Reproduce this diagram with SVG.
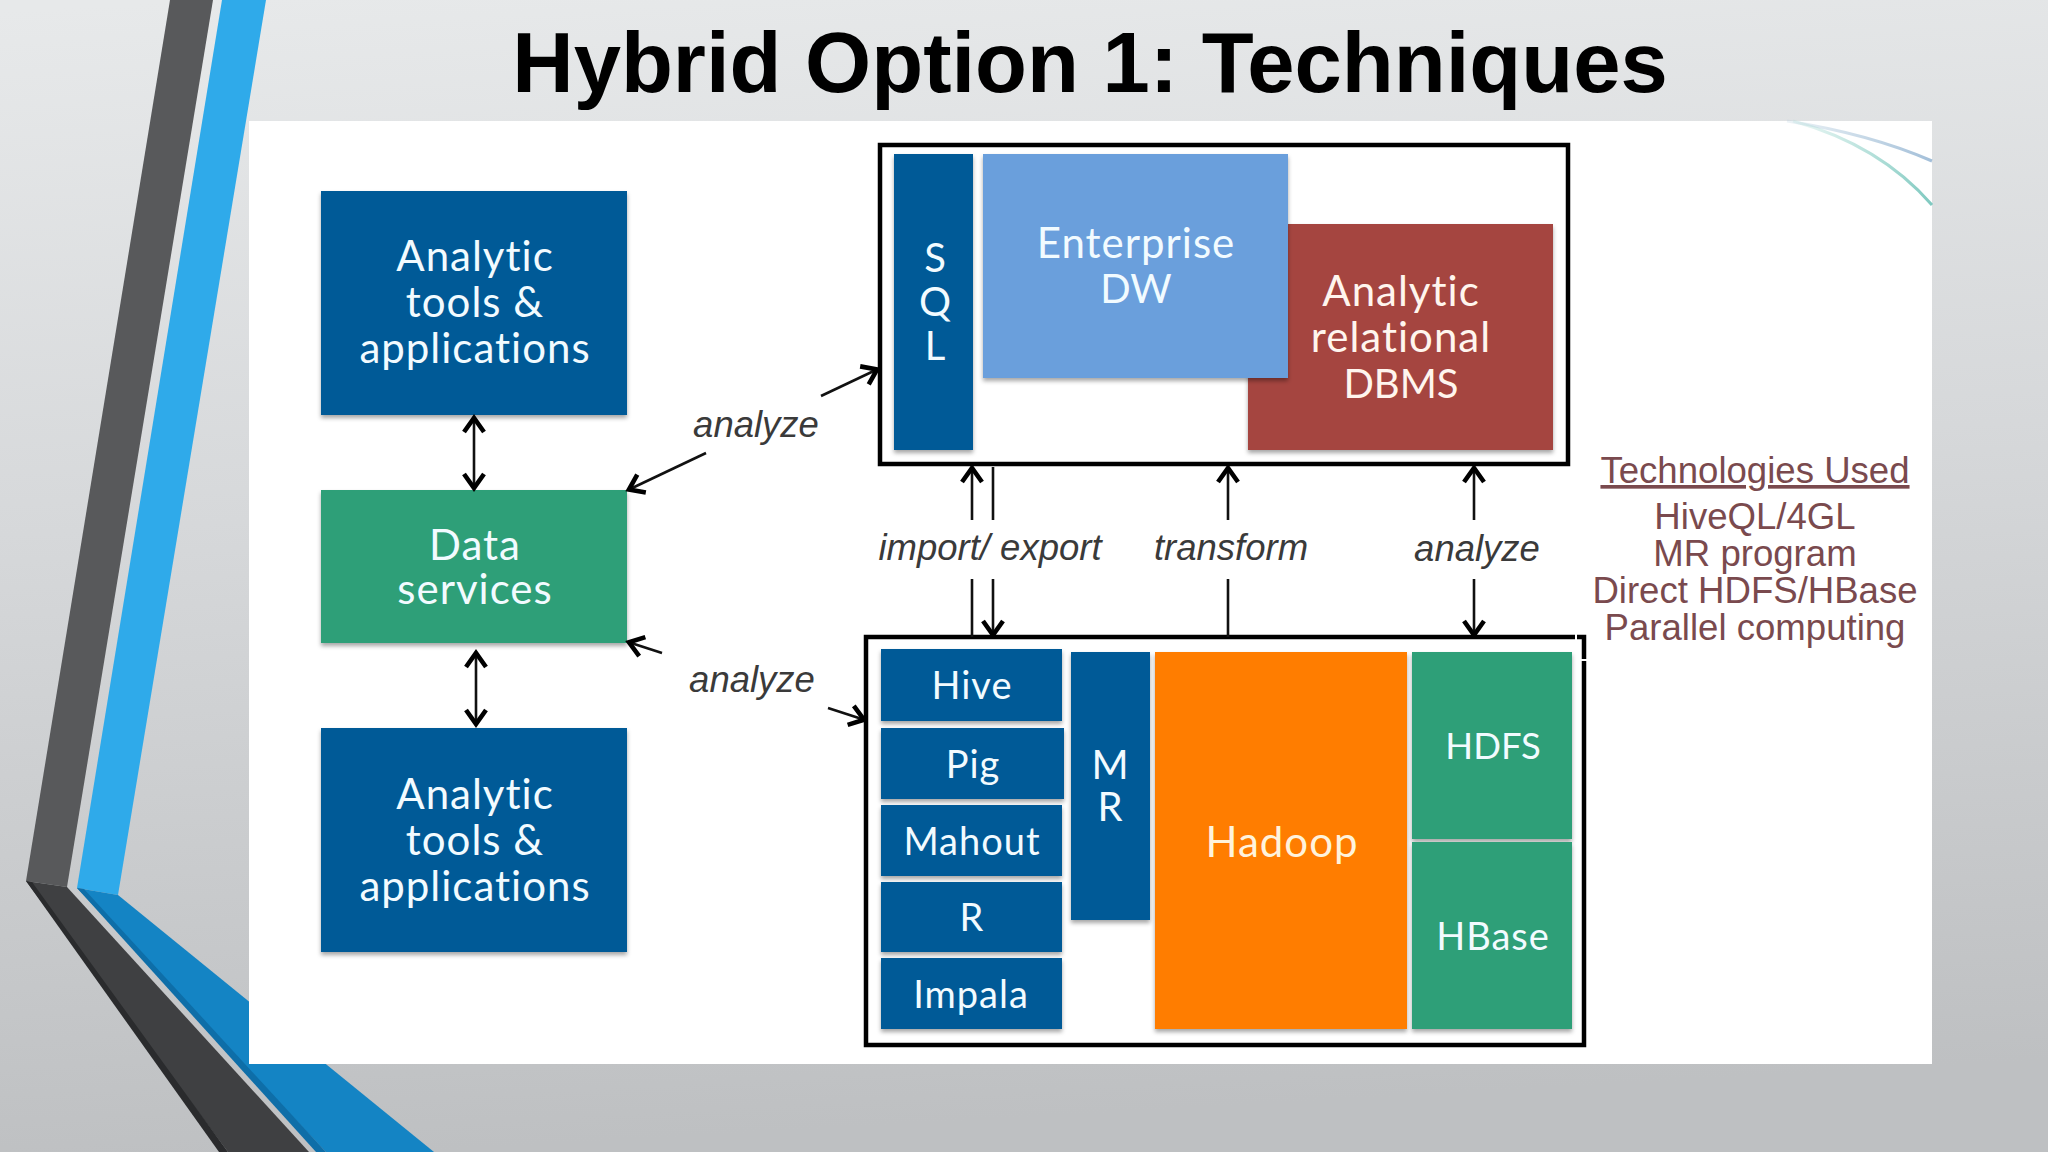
<svg xmlns="http://www.w3.org/2000/svg" width="2048" height="1152" viewBox="0 0 2048 1152">
<style>
.n{font-family:"Lato","Open Sans","Liberation Sans",sans-serif;fill:#f2fbff;text-anchor:middle}
.b{font-size:42px;letter-spacing:1px}.s{font-size:38px;letter-spacing:1px}.p{font-size:40px;letter-spacing:0}.q{font-size:36.5px;letter-spacing:0}
.l{font-family:"Liberation Sans",Arial,sans-serif;font-style:italic;font-size:36.5px;fill:#3a3a3a;text-anchor:middle}
.t{font-family:"Liberation Sans",Arial,sans-serif;font-size:36.6px;fill:#7a4a4e;text-anchor:middle}
.blue{fill:#025a97}.green{fill:#2d9f78}
.c{fill:none;stroke:#111;stroke-width:2.6}
.d{marker-end:url(#h)}.dd{marker-start:url(#h);marker-end:url(#h)}
.o{fill:none;stroke:#000;stroke-width:4.5}
</style>
<defs>
<linearGradient id="bg" x1="0.1" y1="0" x2="0.2" y2="1"><stop offset="0" stop-color="#e7e9ea"/><stop offset="0.45" stop-color="#d6d8da"/><stop offset="1" stop-color="#bec0c2"/></linearGradient>
<linearGradient id="sw" x1="0" y1="0" x2="1" y2="0"><stop offset="0" stop-color="#9fd8cf" stop-opacity="0.2"/><stop offset="1" stop-color="#7fc9c0"/></linearGradient>
<linearGradient id="sw2" x1="0" y1="0" x2="1" y2="0"><stop offset="0" stop-color="#a8c4d8" stop-opacity="0.2"/><stop offset="1" stop-color="#a3bfd9"/></linearGradient>
<filter id="sh" x="-10%" y="-10%" width="120%" height="120%"><feDropShadow dx="0" dy="3" stdDeviation="2" flood-color="#000" flood-opacity="0.35"/></filter>
<marker id="h" markerUnits="userSpaceOnUse" markerWidth="30" markerHeight="30" refX="20" refY="15" orient="auto-start-reverse"><path d="M5 5 L19 15 L5 25" fill="none" stroke="#000" stroke-width="4.6"/></marker>
</defs>
<rect id="background" width="2048" height="1152" fill="url(#bg)"/>
<g id="decoration">
<polygon points="170,0 213,0 67,887 26,881" fill="#58595b"/>
<polygon points="222,0 266,0 118,895 77,888" fill="#2faaea"/>
<polygon points="26,881 67,887 309,1152 228,1152" fill="#3f4042"/>
<polygon points="26,881 32,882 228,1152 219,1152" fill="#2a2b2d"/>
<polygon points="77,888 118,895 434,1152 326,1152" fill="#1484c4"/>
<polygon points="77,888 84,889 326,1152 316,1152" fill="#0e6ea8"/>
</g>
<rect id="panel" x="249" y="121" width="1683" height="943" fill="#fff"/>
<g id="swoosh" fill="none" stroke-width="3">
<path d="M1787 121 Q1870 134 1932 161" stroke="url(#sw2)"/>
<path d="M1793 121 Q1880 145 1932 205" stroke="url(#sw)"/>
</g>
<text id="title" x="1090" y="92" font-family="Liberation Sans, Arial, sans-serif" font-weight="700" font-size="85" text-anchor="middle" fill="#000">Hybrid Option 1: Techniques</text>

<g id="box-top"><rect class="o" x="880" y="145" width="688" height="319"/></g>
<g id="box-bottom"><rect class="o" x="866" y="637" width="718" height="408"/><path d="M1576 633 V640 M1580 660 H1590" stroke="#fff" stroke-width="2"/></g>

<g id="node-analytic-top"><rect class="blue" x="321" y="191" width="306" height="224" filter="url(#sh)"/><text class="n b"><tspan x="475" y="271">Analytic</tspan><tspan x="475" y="317">tools &amp;</tspan><tspan x="475" y="363">applications</tspan></text></g>
<g id="node-data-services"><rect class="green" x="321" y="490" width="306" height="153" filter="url(#sh)"/><text class="n b"><tspan x="475" y="560">Data</tspan><tspan x="475" y="604">services</tspan></text></g>
<g id="node-analytic-bottom"><rect class="blue" x="321" y="728" width="306" height="224" filter="url(#sh)"/><text class="n b"><tspan x="475" y="809">Analytic</tspan><tspan x="475" y="855">tools &amp;</tspan><tspan x="475" y="901">applications</tspan></text></g>

<g id="node-sql"><rect class="blue" x="894" y="154" width="79" height="296" filter="url(#sh)"/><text class="n p"><tspan x="935" y="272">S</tspan><tspan x="935" y="316">Q</tspan><tspan x="935" y="360">L</tspan></text></g>
<g id="node-analytic-rdbms"><rect x="1248" y="224" width="305" height="226" fill="#a5453f" filter="url(#sh)"/><text class="n b" style="fill:#fff5ee"><tspan x="1401" y="306">Analytic</tspan><tspan x="1401" y="352">relational</tspan><tspan class="p" x="1401" y="398">DBMS</tspan></text></g>
<g id="node-enterprise-dw"><rect x="983" y="154" width="305" height="224" fill="#6a9fdc" filter="url(#sh)"/><text class="n b"><tspan x="1136" y="258">Enterprise</tspan><tspan class="p" x="1136" y="303">DW</tspan></text></g>

<g id="node-hive"><rect class="blue" x="881" y="649" width="181" height="72" filter="url(#sh)"/><text class="n s" x="972" y="699">Hive</text></g>
<g id="node-pig"><rect class="blue" x="881" y="728" width="183" height="71" filter="url(#sh)"/><text class="n s" x="973" y="778">Pig</text></g>
<g id="node-mahout"><rect class="blue" x="881" y="805" width="181" height="71" filter="url(#sh)"/><text class="n s" x="972" y="855">Mahout</text></g>
<g id="node-r"><rect class="blue" x="881" y="882" width="181" height="70" filter="url(#sh)"/><text class="n s" x="972" y="931">R</text></g>
<g id="node-impala"><rect class="blue" x="881" y="958" width="181" height="71" filter="url(#sh)"/><text class="n s" x="971" y="1008">Impala</text></g>
<g id="node-mr"><rect class="blue" x="1071" y="652" width="79" height="268" filter="url(#sh)"/><text class="n p"><tspan x="1110" y="779">M</tspan><tspan x="1110" y="821">R</tspan></text></g>
<g id="node-hadoop"><rect x="1155" y="652" width="252" height="377" fill="#ff7d00" filter="url(#sh)"/><text class="n b" x="1282" y="857" style="fill:#fff3dc">Hadoop</text></g>
<g id="node-hdfs"><rect class="green" x="1412" y="652" width="160" height="187" filter="url(#sh)"/><text class="n q" x="1493" y="759">HDFS</text></g>
<g id="node-hbase"><rect class="green" x="1412" y="842" width="160" height="187" filter="url(#sh)"/><text class="n s" x="1493" y="950">HBase</text></g>

<g id="connectors">
<path class="c dd" d="M474 417 V489"/>
<path class="c dd" d="M476 652 V725"/>
<path class="c d" d="M821 396 L878 369"/>
<path class="c d" d="M706 453 L628 490"/>
<path class="c d" d="M662 653 L628 642"/>
<path class="c d" d="M828 708 L865 720"/>
<path class="c d" d="M972 520 V467"/>
<path class="c" d="M972 579 V637"/>
<path class="c" d="M993 467 V520"/>
<path class="c d" d="M993 579 V636"/>
<path class="c d" d="M1228 520 V467"/>
<path class="c" d="M1228 579 V637"/>
<path class="c d" d="M1474 520 V467"/>
<path class="c d" d="M1474 579 V636"/>
</g>
<g id="labels">
<text class="l" x="756" y="437">analyze</text>
<text class="l" x="752" y="692">analyze</text>
<text class="l" x="990" y="560">import/ export</text>
<text class="l" x="1231" y="560">transform</text>
<text class="l" x="1477" y="561">analyze</text>
</g>
<g id="technologies">
<text class="t" x="1755" y="483" style="text-decoration:underline">Technologies Used</text>
<text class="t" x="1755" y="529">HiveQL/4GL</text>
<text class="t" x="1755" y="566">MR program</text>
<text class="t" x="1755" y="603">Direct HDFS/HBase</text>
<text class="t" x="1755" y="640">Parallel computing</text>
</g>
</svg>
